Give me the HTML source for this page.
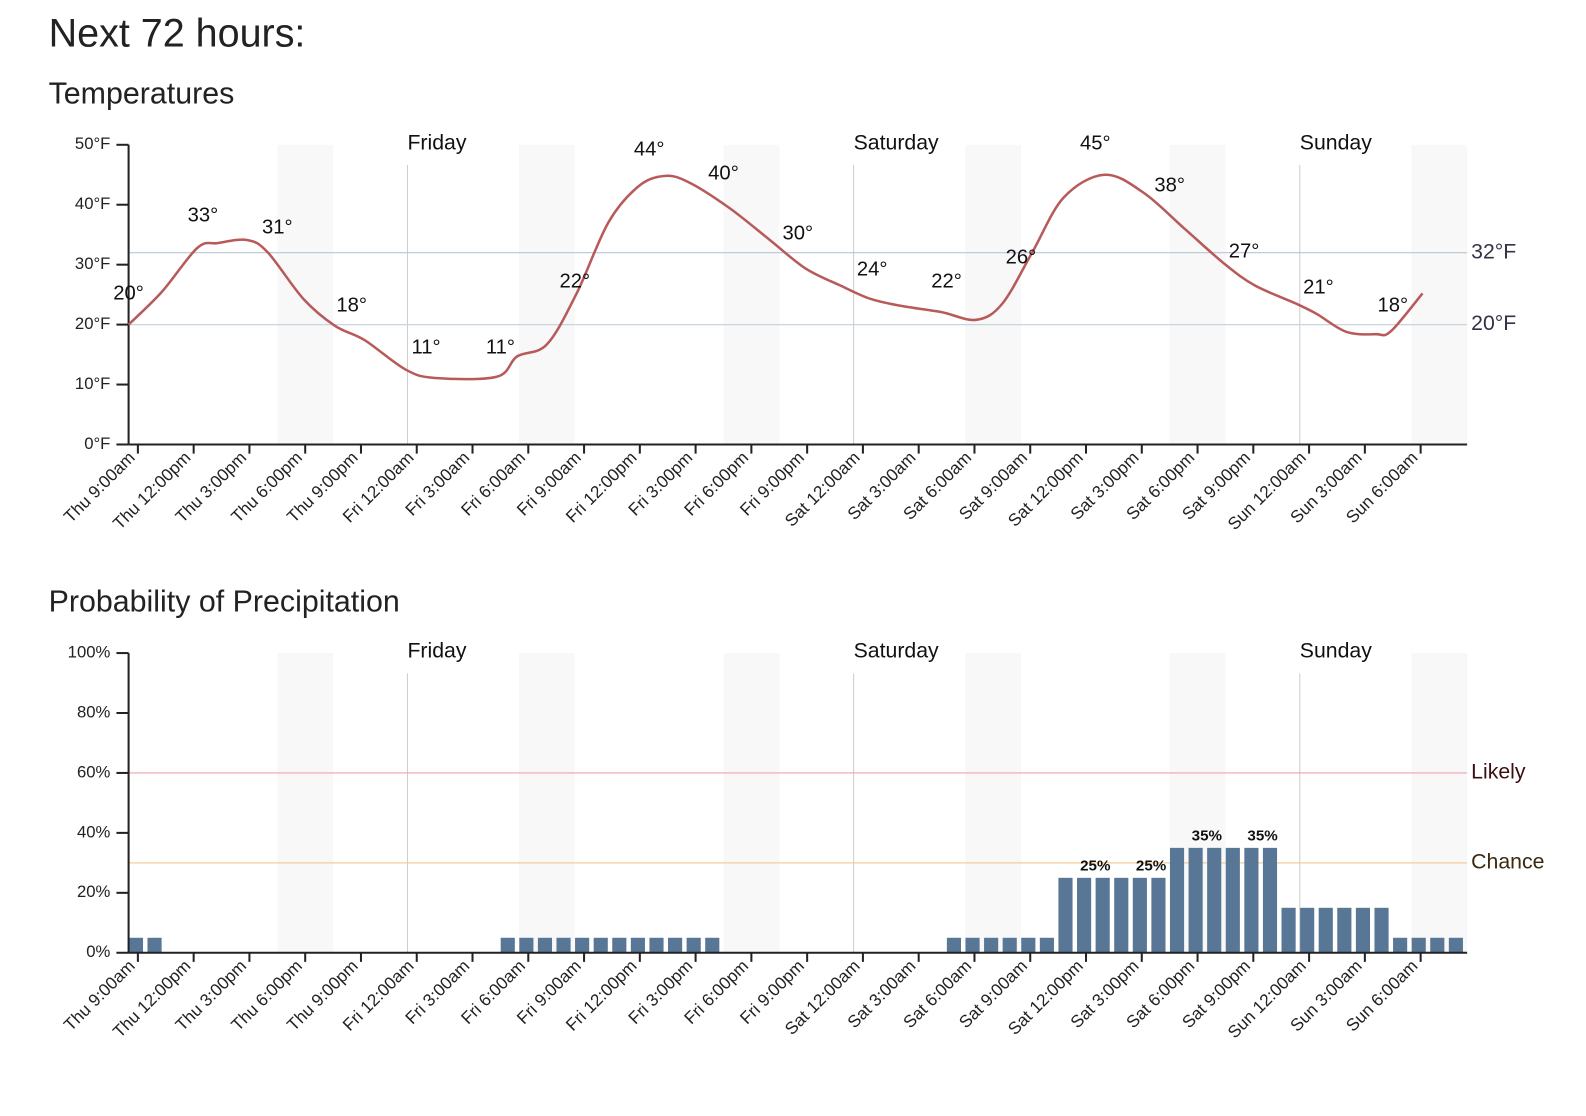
<!DOCTYPE html>
<html><head><meta charset="utf-8">
<style>
body{margin:0;background:#fff;width:1586px;height:1102px;overflow:hidden;font-family:"Liberation Sans",sans-serif;}
#wrap{position:absolute;left:0;top:0;width:1586px;height:1102px;transform:scale(1.0125);transform-origin:0 0;}
h1,h2{position:absolute;margin:0;font-weight:normal;color:#222;}
svg{position:absolute;left:0;top:0;}
</style></head><body>
<div id="wrap">
<h1 style="left:48px;top:12px;font-size:39px;">Next 72 hours:</h1>
<h2 style="left:48px;top:76px;font-size:30px;">Temperatures</h2>
<h2 style="left:48px;top:578px;font-size:30px;">Probability of Precipitation</h2>
<svg id="chart" width="1586" height="1102" xmlns="http://www.w3.org/2000/svg"></svg>
</div>
<script>
const tickLabels=["Thu 9:00am","Thu 12:00pm","Thu 3:00pm","Thu 6:00pm","Thu 9:00pm","Fri 12:00am","Fri 3:00am","Fri 6:00am","Fri 9:00am","Fri 12:00pm","Fri 3:00pm","Fri 6:00pm","Fri 9:00pm","Sat 12:00am","Sat 3:00am","Sat 6:00am","Sat 9:00am","Sat 12:00pm","Sat 3:00pm","Sat 6:00pm","Sat 9:00pm","Sun 12:00am","Sun 3:00am","Sun 6:00am"];
const dayNames=["Friday","Saturday","Sunday"];
const dayStartHours=[15,39,63];
const shadeStartHours=[8,21,32,45,56,69];
const tempHours=[0,1.8,3.7,4.8,6.4,7.5,9.4,11.1,12.7,14.9,16.5,19.8,20.9,22.5,24.1,25.8,27.4,28.8,30.1,32.3,34.5,36.4,38.3,39.9,41.6,43.7,45.6,47,48.6,50.3,52.5,54.6,56.8,59,60.6,62.8,63.9,65.5,67.1,67.9,69.6];
const tempValues=[20,25.5,32.8,33.6,34.1,32,24.3,19.8,17.4,12.5,11.1,11.3,14.7,16.7,25.2,37,43,44.8,43.8,39.5,34.1,29.4,26.5,24.3,23.1,22.1,20.8,23.5,32,41.2,45,42,36,30,26.5,23.5,21.8,18.8,18.4,18.9,25.2];
const tempLabels=[20,33,31,18,11,11,22,44,40,30,24,22,26,45,38,27,21,18];
const tempTicks=[0,10,20,30,40,50];
const precipValues=[5,5,0,0,0,0,0,0,0,0,0,0,0,0,0,0,0,0,0,0,5,5,5,5,5,5,5,5,5,5,5,5,0,0,0,0,0,0,0,0,0,0,0,0,5,5,5,5,5,5,25,25,25,25,25,25,35,35,35,35,35,35,15,15,15,15,15,15,5,5,5,5];
const precipTicks=[0,20,40,60,80,100];

const NS="http://www.w3.org/2000/svg";
const svg=document.getElementById("chart");
const X0=127,X1=1449,W=(X1-X0)/72;
const xH=h=>X0+h*W;
function el(tag,attrs,parent,text){const e=document.createElementNS(NS,tag);for(const k in attrs)e.setAttribute(k,attrs[k]);if(text!==undefined)e.textContent=text;(parent||svg).appendChild(e);return e;}

function frame(top,bottom,prefix){
  const g=el("g",{});
  
  
  shadeStartHours.forEach(h=>{
    const r=el("rect",{x:xH(h),y:top,width:W*3,height:bottom-top,fill:"#f8f8f8"},g);
    
    
  });
  dayStartHours.forEach((h,i)=>{
    const l=el("line",{x1:xH(h),x2:xH(h),y1:top+20,y2:bottom,stroke:"#ccc","stroke-width":1},g);
    
    
    const t=el("text",{x:xH(h),y:top-1,"font-size":21,fill:"#111","dominant-baseline":"middle"},g,dayNames[i]);
    
    
  });
  return g;
}
function axes(g,top,bottom,yS,ticks,fmt){
  const ya=el("line",{x1:X0,x2:X0,y1:top,y2:bottom,stroke:"#222","stroke-width":2},g);
  
  
  ticks.forEach(v=>{
    el("line",{x1:X0-12,x2:X0,y1:yS(v),y2:yS(v),stroke:"#222","stroke-width":2},g);
    const t=el("text",{x:X0-18,y:yS(v),"font-size":16.5,fill:"#222","text-anchor":"end","dominant-baseline":"middle"},g,fmt(v));
    
    
  });
  const xa=el("line",{x1:X0,x2:X1,y1:bottom,y2:bottom,stroke:"#222","stroke-width":2},g);
  
  
  tickLabels.forEach((s,i)=>{
    const x=xH(i*3+0.5);
    el("line",{x1:x,x2:x,y1:bottom,y2:bottom+9,stroke:"#222","stroke-width":2},g);
    const t=el("text",{x:0,y:0,"font-size":17,fill:"#222","text-anchor":"end",transform:`translate(${x-2},${bottom+14}) rotate(-45)`},g,s);
    
    
  });
}
function refLine(g,y,color,label,lcolor,name){
  const l=el("line",{x1:X0,x2:X1,y1:y,y2:y,stroke:color,"stroke-width":1.2},g);
  
  
  const t=el("text",{x:X1+4,y:y,"font-size":21,fill:lcolor,"dominant-baseline":"middle"},g,label);
  
  
}

const tTop=143,tBot=439;
const yT=v=>tBot-v*(tBot-tTop)/50;
const gT=frame(tTop,tBot,"temperature");
refLine(gT,yT(32),"#b8c6d4","32°F","#334","freezing");
refLine(gT,yT(20),"#c8d4e0","20°F","#334","twenty-degree");
axes(gT,tTop,tBot,yT,tempTicks,v=>v+"°F");
const pts=tempHours.map((h,i)=>[xH(h),yT(tempValues[i])]);
let d=`M${pts[0][0]},${pts[0][1]}`;
for(let i=0;i<pts.length-1;i++){
  const p0=pts[Math.max(0,i-1)],p1=pts[i],p2=pts[i+1],p3=pts[Math.min(pts.length-1,i+2)];
  const c1=[p1[0]+(p2[0]-p0[0])/6,p1[1]+(p2[1]-p0[1])/6];
  const c2=[p2[0]-(p3[0]-p1[0])/6,p2[1]-(p3[1]-p1[1])/6];
  d+=` C${c1[0]},${c1[1]} ${c2[0]},${c2[1]} ${p2[0]},${p2[1]}`;
}
const path=el("path",{d:d,fill:"none",stroke:"#b85a5a","stroke-width":2.5},gT);


tempLabels.forEach((v,k)=>{
  const t=el("text",{x:xH(k*4),y:yT(v)-30,"font-size":20,fill:"#111","text-anchor":"middle","dominant-baseline":"middle"},gT,v+"°");
  
  
});

const pTop=645,pBot=941;
const yP=v=>pBot-v*(pBot-pTop)/100;
const gP=frame(pTop,pBot,"precipitation");
refLine(gP,yP(60),"#eca4ac","Likely","#3a0f12","likely");
refLine(gP,yP(30),"#f4cc98","Chance","#3a2a0f","chance");
precipValues.forEach((v,i)=>{
  if(v<=0)return;
  const r=el("rect",{x:xH(i)+0.3,y:yP(v),width:W-4.4,height:pBot-yP(v),fill:"#587696"},gP);
  
  
});
precipValues.forEach((v,i)=>{
  if(i%3!==1||v<20)return;
  const t=el("text",{x:xH(i),y:yP(v)-11,"font-size":15,fill:"#111","text-anchor":"middle","dominant-baseline":"middle","font-weight":"bold"},gP,v+"%");
  
  
});
axes(gP,pTop,pBot,yP,precipTicks,v=>v+"%");
</script>
</body></html>
